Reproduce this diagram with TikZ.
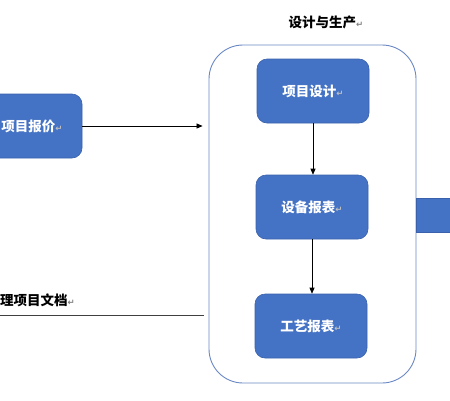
\documentclass[tikz,border=0pt]{standalone}
\usepackage{fontspec}
\usetikzlibrary{arrows.meta}
\newfontfamily\cjk{Noto Sans CJK SC}
\newfontfamily\djv{DejaVu Sans}
\definecolor{boxblue}{HTML}{4472C4}
\definecolor{boxedge}{HTML}{3A62AC}
\definecolor{frameblue}{HTML}{6A88C4}
\newcommand\retmark[1]{{\djv\fontsize{8.5}{8.5}\selectfont\textcolor{#1}{↵}}}
\tikzset{
  bluebox/.style={draw=boxedge, line width=0.6pt, fill=boxblue, rounded corners=10pt,
    minimum width=112pt, minimum height=64pt, inner sep=0pt,
    font=\cjk\bfseries\fontsize{13.5}{13.5}\selectfont, text=white},
  frame/.style={draw=frameblue, line width=0.9pt, rounded corners=34pt,
    minimum width=207pt, minimum height=338pt, inner sep=0pt},
  lbl/.style={font=\cjk\bfseries\fontsize{13.5}{13.5}\selectfont, text=black, inner sep=0pt},
  flow/.style={draw=black, line width=0.7pt, -{Triangle[length=6pt,width=5pt]}}
}
\begin{document}
\begin{tikzpicture}[x=1pt,y=-1pt]
\useasboundingbox (0,0) rectangle (450,400);
\node[frame] (cont) at (312.5,214) {};
\node[lbl] (title) at (326,22) {设计与生产\retmark{gray}};
\node[bluebox] (design) at (313,91) {项目设计\retmark{lightgray}};
\node[bluebox] (equip) at (312,207) {设备报表\retmark{lightgray}};
\node[bluebox] (proc) at (311,326) {工艺报表\retmark{lightgray}};
\node[bluebox] (quote) at (26,126) {\hspace*{12pt}项目报价\retmark{lightgray}};
\node[draw=boxedge, line width=0.6pt, fill=boxblue, minimum width=60pt, minimum height=34pt, inner sep=0pt] (rbox) at (446,215) {};
\node[lbl, anchor=west] (doc) at (0,300) {理项目文档\retmark{gray}};
\coordinate (docL) at (0,315);
\draw[flow] (design.south) -- (design.south |- equip.north);
\draw[flow] (equip.south) -- (equip.south |- proc.north);
\draw[flow, shorten >=6pt] (quote.east) -- (quote.east -| cont.west);
\draw[draw=black!75, line width=0.9pt, shorten >=5pt] (docL) -- (docL -| cont.west);
\end{tikzpicture}
\end{document}
